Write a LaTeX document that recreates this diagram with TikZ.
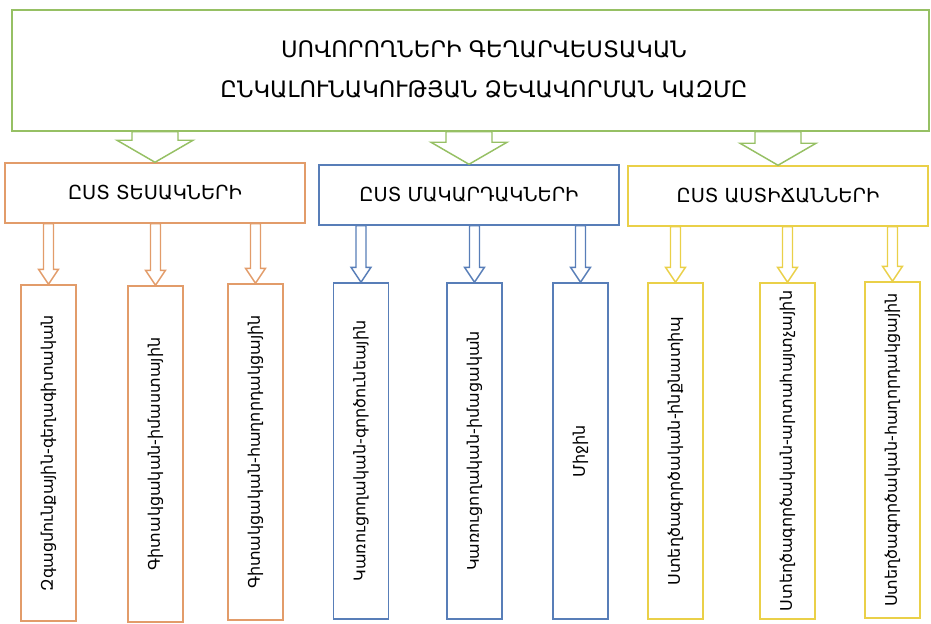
\documentclass[tikz,border=0pt]{standalone}
\usepackage{fontspec}
\setmainfont{DejaVu Sans}
\usetikzlibrary{calc}

\definecolor{grn}{RGB}{150,192,100}
\definecolor{org}{RGB}{226,156,106}
\definecolor{blu}{RGB}{88,126,184}
\definecolor{ylw}{RGB}{234,208,72}

\tikzset{
  frame/.style={draw, line width=1.1pt, fill=white, inner sep=0pt},
  head/.style={frame, minimum width=300*0.75pt, minimum height=60*0.75pt,
    font=\fontsize{14.5}{16}\selectfont},
  kind/.style={frame, rotate=90, minimum width=336*0.75pt, minimum height=55*0.75pt,
    font=\fontsize{12}{14}\selectfont}
}

% hollow arrow: colour, from, to, shaft half width, head half width, head length (px)
\newcommand{\fatarrow}[6]{%
  \draw[draw=#1, line width=1.1pt, fill=white] let \p1=(#2), \p2=(#3) in
    ({\x1-#4*0.75pt},\y1) -- ({\x1+#4*0.75pt},\y1) -- ({\x1+#4*0.75pt},{\y2+#6*0.75pt})
    -- ({\x1+#5*0.75pt},{\y2+#6*0.75pt}) -- (\x1,\y2) -- ({\x1-#5*0.75pt},{\y2+#6*0.75pt})
    -- ({\x1-#4*0.75pt},{\y2+#6*0.75pt}) -- cycle;}

\begin{document}
\begin{tikzpicture}[x=0.75pt,y=-0.75pt]
  \useasboundingbox (0,0) rectangle (931,624);

  \node[frame, draw=grn, minimum width=917*0.75pt, minimum height=121*0.75pt] (top) at (470.5,70.5) {};
  \node[align=center, font=\fontsize{17}{30}\selectfont] (title) at (484,69)
    {ՍՈՎՈՐՈՂՆԵՐԻ ԳԵՂԱՐՎԵՍՏԱԿԱՆ\\ԸՆԿԱԼՈՒՆԱԿՈՒԹՅԱՆ ՁԵՎԱՎՈՐՄԱՆ ԿԱԶՄԸ};

  \node[head, draw=org] (tes) at (155,193) {ԸՍՏ ՏԵՍԱԿՆԵՐԻ};
  \node[head, draw=blu] (mak) at (469,195) {ԸՍՏ ՄԱԿԱՐԴԱԿՆԵՐԻ};
  \node[head, draw=ylw] (ast) at (778,196) {ԸՍՏ ԱՍՏԻՃԱՆՆԵՐԻ};

  \fatarrow{grn}{top.south -| tes.north}{tes.north}{23}{38}{22}
  \fatarrow{grn}{top.south -| mak.north}{mak.north}{23}{38}{22}
  \fatarrow{grn}{top.south -| ast.north}{ast.north}{23}{38}{22}

  % by types
  \node[kind, draw=org] (t1) at (48.5,453) {Զգացմունքային-գեղագիտական};
  \node[kind, draw=org] (t2) at (155.5,454) {Գիտակցական-իմաստային};
  \node[kind, draw=org] (t3) at (255.5,452) {Գիտակցական-հաղորդակցային};
  % by levels
  \node[kind, draw=blu] (m1) at (361,451) {Կառուցողական-գործունեային};
  \node[kind, draw=blu] (m2) at (474.5,451) {Կառուցողական-իմացական};
  \node[kind, draw=blu] (m3) at (580.5,451) {Միջին};
  % by degrees
  \node[kind, draw=ylw] (a1) at (675.5,451) {Ստեղծագործական-ինքնատիպ};
  \node[kind, draw=ylw] (a2) at (787.5,451) {Ստեղծագործական-արտահայտչային};
  \node[kind, draw=ylw] (a3) at (892.5,450) {Ստեղծագործական-հաղորդակցային};

  \foreach \b in {t1,t2,t3} \fatarrow{org}{tes.south -| \b.east}{\b.east}{5}{10}{15};
  \foreach \b in {m1,m2,m3} \fatarrow{blu}{mak.south -| \b.east}{\b.east}{5}{10}{15};
  \foreach \b in {a1,a2,a3} \fatarrow{ylw}{ast.south -| \b.east}{\b.east}{5}{10}{15};
\end{tikzpicture}
\end{document}
